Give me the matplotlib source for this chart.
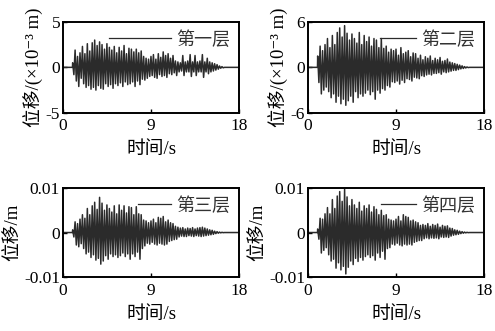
import numpy as np
import matplotlib
matplotlib.use("Agg")
import matplotlib.pyplot as plt

plt.rcParams["font.family"] = ["Liberation Serif", "Noto Sans CJK SC", "DejaVu Serif"]

# sampling of the digitised peaks (s)
t_start = 1.0
dt = 0.125

# alternating peak values, units of 1e-3 m
floor1 = [
    0.5, -0.8, 1.9, -1.5, 1.2, -2.1, 1.6, -1.2,
    2.3, -1.8, 1.5, -2.2, 2.6, -2.0, 1.8, -2.4,
    2.7, -2.2, 3.0, -2.5, 2.4, -2.0, 2.8, -2.3,
    2.5, -2.4, 2.0, -1.8, 2.6, -2.1, 2.2, -1.9,
    1.9, -2.3, 2.3, -1.8, 1.6, -2.0, 2.2, -1.7,
    1.8, -2.1, 2.4, -1.6, 1.5, -1.9, 2.1, -1.8,
    2.0, -1.6, 1.7, -2.1, 2.0, -1.5, 1.6, -1.9,
    1.8, -1.3, 1.2, -1.4, 1.0, -1.2, 0.9, -1.0,
    1.2, -0.9, 1.4, -1.1, 0.9, -1.2, 1.5, -0.8,
    1.1, -1.0, 1.7, -0.9, 1.3, -1.1, 1.5, -0.7,
    1.0, -0.8, 1.3, -0.6, 0.7, -0.9, 0.6, -0.5,
    0.5, -0.4, 1.3, -0.9, 0.6, -0.5, 0.7, -0.5,
    1.4, -1.0, 0.6, -0.5, 1.3, -0.9, 0.6, -0.5,
    0.7, -0.5, 1.4, -1.1, 0.6, -0.5, 1.0, -0.7,
    0.6, -0.5, 0.5, -0.4, 0.4, -0.3, 0.3, -0.2,
    0.15, -0.1, 0.08, -0.05, 0.0,
]
floor2 = [
    1.5, -2.0, 2.8, -3.5, 2.2, -3.0, 3.0, -2.6,
    3.8, -3.2, 2.6, -4.0, 4.2, -3.5, 3.0, -4.6,
    4.6, -3.8, 5.2, -4.8, 4.0, -4.2, 5.5, -5.0,
    4.5, -4.4, 3.6, -3.8, 4.4, -4.6, 3.8, -3.2,
    3.2, -4.0, 4.6, -3.5, 3.0, -3.8, 4.2, -3.4,
    3.4, -3.0, 4.0, -3.6, 2.8, -3.2, 3.8, -4.2,
    3.6, -3.0, 2.6, -3.4, 3.8, -2.8, 2.5, -3.0,
    2.8, -2.4, 2.0, -2.6, 2.4, -1.9, 2.2, -2.0,
    2.4, -1.8, 1.6, -2.2, 2.6, -1.7, 1.8, -2.0,
    2.0, -1.5, 2.2, -1.6, 1.4, -1.8, 1.9, -1.3,
    1.8, -1.4, 1.2, -1.5, 1.6, -1.1, 1.0, -1.2,
    1.4, -1.0, 1.2, -0.9, 1.5, -1.0, 0.9, -0.8,
    1.2, -0.8, 1.0, -0.7, 1.3, -0.9, 0.8, -0.6,
    0.9, -0.7, 1.1, -0.6, 0.7, -0.5, 0.6, -0.4,
    0.5, -0.4, 0.4, -0.3, 0.3, -0.2, 0.2, -0.15,
    0.1, -0.08, 0.05, -0.03, 0.0,
]
floor3 = [
    0.6, -1.0, 2.4, -2.8, 2.0, -3.2, 3.0, -2.5,
    4.0, -3.6, 3.2, -4.8, 5.4, -4.4, 4.0, -5.6,
    6.0, -5.0, 6.8, -6.2, 5.2, -5.8, 7.9, -7.1,
    6.6, -6.4, 5.0, -5.2, 6.2, -6.0, 5.4, -4.8,
    4.6, -5.4, 6.0, -5.0, 4.2, -5.6, 6.2, -5.2,
    5.0, -4.6, 6.0, -5.4, 4.4, -4.8, 5.8, -6.0,
    5.6, -4.8, 4.0, -5.4, 5.8, -4.4, 4.2, -6.0,
    4.0, -3.6, 2.8, -3.0, 2.6, -2.4, 2.2, -2.6,
    2.6, -2.2, 3.0, -2.6, 2.2, -2.8, 3.4, -2.4,
    3.2, -2.6, 3.6, -2.8, 2.4, -2.6, 2.8, -2.0,
    2.2, -1.8, 2.0, -1.6, 1.4, -1.5, 1.2, -1.0,
    1.0, -0.8, 1.1, -0.9, 0.8, -0.9, 1.0, -0.7,
    0.9, -0.8, 1.1, -0.9, 0.8, -0.7, 1.0, -0.8,
    1.1, -0.9, 1.2, -0.8, 1.0, -0.7, 0.8, -0.6,
    0.6, -0.5, 0.5, -0.4, 0.3, -0.25, 0.2, -0.15,
    0.1, -0.08, 0.05, -0.03, 0.0,
]
floor4 = [
    0.8, -1.5, 3.2, -4.6, 3.0, -4.0, 4.2, -3.4,
    5.6, -5.0, 4.2, -6.4, 7.4, -6.0, 5.4, -8.0,
    8.2, -6.8, 9.2, -8.4, 7.0, -7.6, 9.7, -9.3,
    8.0, -7.8, 6.0, -6.4, 7.4, -7.2, 6.2, -5.8,
    5.4, -6.5, 6.8, -5.6, 4.8, -6.2, 6.0, -5.4,
    5.4, -5.0, 6.2, -5.6, 4.6, -5.2, 5.8, -6.2,
    5.2, -4.6, 4.0, -5.6, 5.0, -4.2, 3.8, -6.0,
    4.0, -3.6, 3.0, -3.4, 2.8, -2.6, 2.6, -2.8,
    3.0, -2.4, 3.6, -2.8, 2.6, -3.0, 4.0, -2.6,
    3.6, -2.8, 3.4, -2.6, 2.6, -2.8, 2.8, -2.2,
    2.4, -2.0, 2.2, -1.8, 1.6, -1.8, 1.8, -1.4,
    1.6, -1.2, 2.0, -1.4, 1.4, -1.2, 1.8, -1.3,
    1.6, -1.2, 1.9, -1.4, 1.2, -1.0, 1.6, -1.1,
    1.4, -1.0, 1.5, -1.1, 1.0, -0.8, 0.9, -0.6,
    0.6, -0.5, 0.5, -0.4, 0.3, -0.25, 0.2, -0.15,
    0.1, -0.08, 0.05, -0.03, 0.0,
]

labels = ["第一层", "第二层", "第三层", "第四层"]
ylabels = ["位移/(×10⁻³ m)", "位移/(×10⁻³ m)", "位移/m", "位移/m"]
# (scale to plot units, ylim, yticks, ytick labels)
yaxes = [
    (1.0, 5, [-5, 0, 5], ["-5", "0", "5"]),
    (1.0, 6, [-6, 0, 6], ["-6", "0", "6"]),
    (1e-3, 0.01, [-0.01, 0, 0.01], ["-0.01", "0", "0.01"]),
    (1e-3, 0.01, [-0.01, 0, 0.01], ["-0.01", "0", "0.01"]),
]
handle_lengths = [3.4, 2.0, 1.8, 1.9]
positions = [
    [0.127, 0.659, 0.356, 0.275],
    [0.622, 0.659, 0.356, 0.275],
    [0.127, 0.163, 0.356, 0.269],
    [0.622, 0.163, 0.356, 0.269],
]

fig = plt.figure(figsize=(4.95, 3.31), dpi=100)
for i, series in enumerate([floor1, floor2, floor3, floor4]):
    ax = fig.add_axes(positions[i])
    scale, lim, yt, ytl = yaxes[i]
    vals = np.array(series) * scale
    t = t_start + dt * np.arange(len(vals))
    t = np.concatenate([[0.0, t_start - 0.02], t, [18.0]])
    vals = np.concatenate([[0.0, 0.0], vals, [0.0]])
    ax.plot(t, vals, color="#2b2b2b", lw=1.1, label=labels[i])
    ax.set_xlim(0, 18)
    ax.set_ylim(-lim, lim)
    ax.set_xticks([0, 9, 18])
    ax.set_yticks(yt)
    ax.set_yticklabels(ytl)
    ax.tick_params(direction="in", length=3, width=1, labelsize=12.5)
    ax.tick_params(axis="x", pad=4)
    ax.tick_params(axis="y", pad=2)
    for s in ax.spines.values():
        s.set_linewidth(1.4)
    ax.set_xlabel("时间/s", fontsize=13.5, labelpad=5)
    ax.set_ylabel(ylabels[i], fontsize=13.5, labelpad=2)
    leg = ax.legend(loc="upper right", frameon=False, fontsize=13,
                    handlelength=handle_lengths[i], handletextpad=0.3,
                    borderaxespad=0.3, borderpad=0.2)
    leg.get_lines()[0].set_linewidth(0.9)
    for txt in leg.get_texts():
        txt.set_color("#333333")

fig.savefig("out.png", dpi=100)
